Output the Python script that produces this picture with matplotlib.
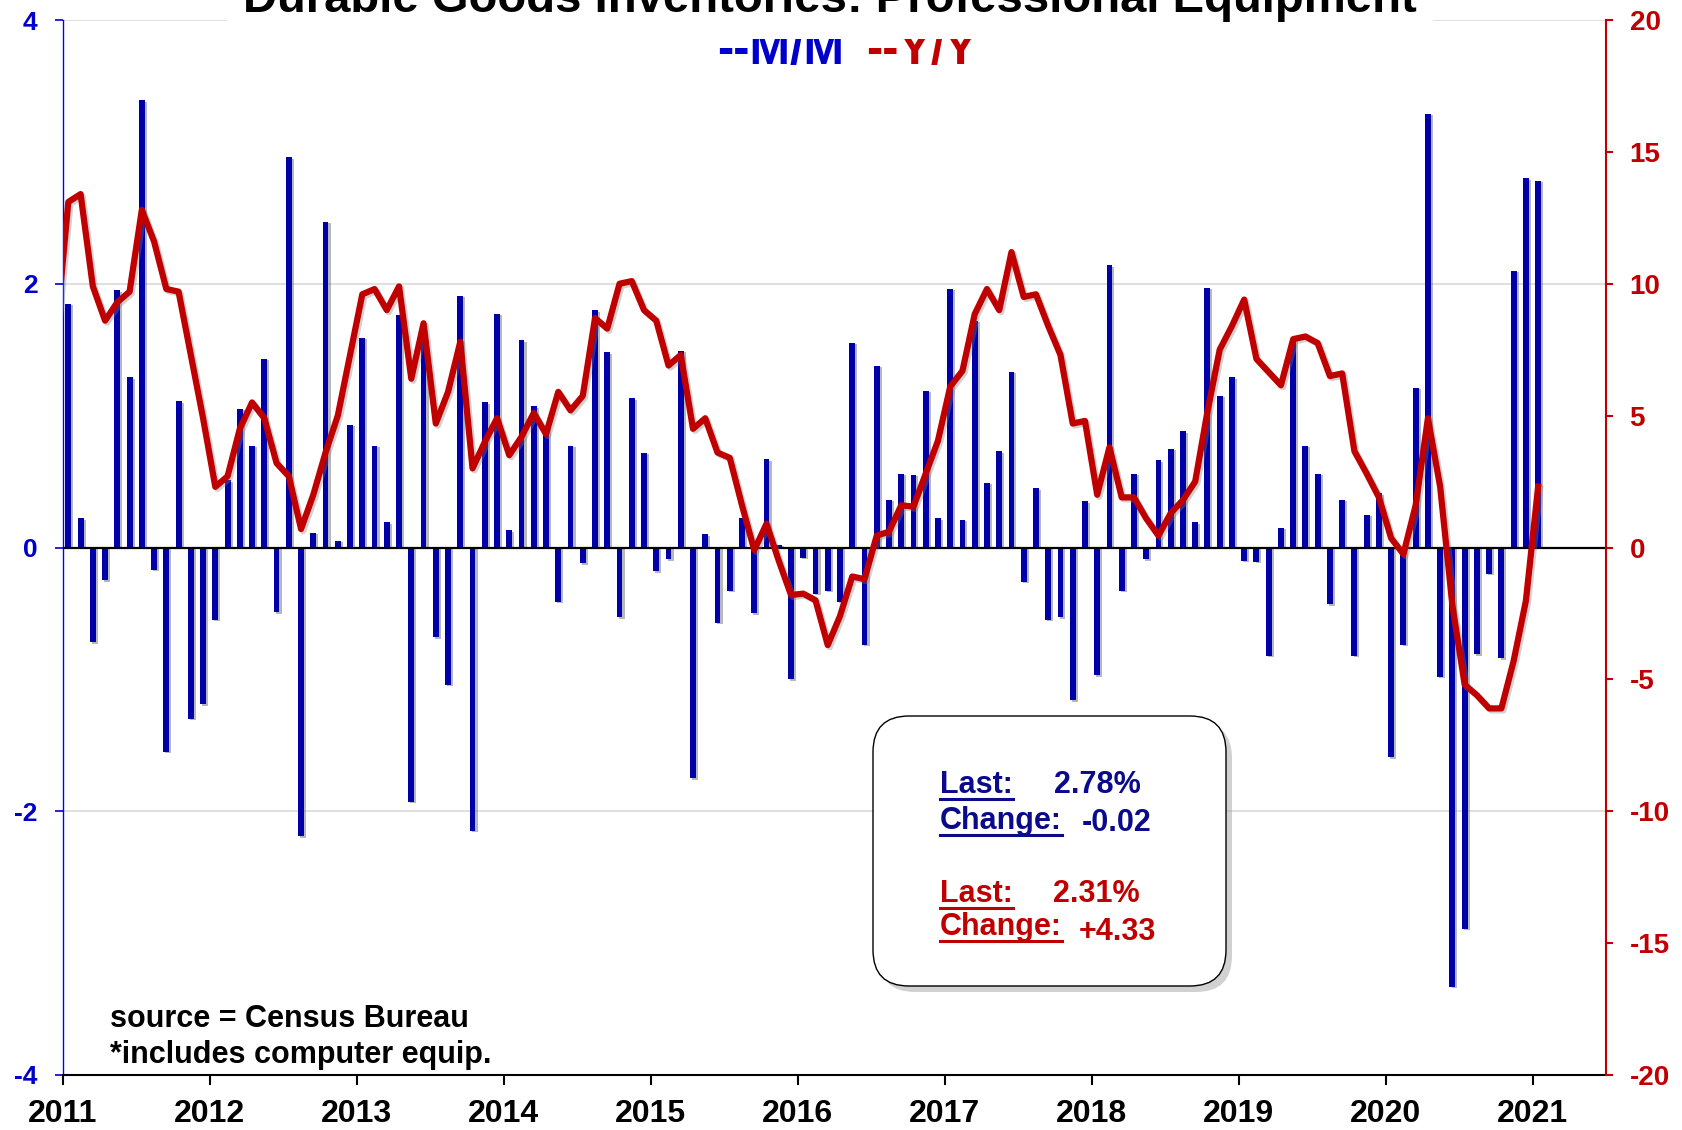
import numpy as np
import matplotlib
matplotlib.use("Agg")
import matplotlib.pyplot as plt
import matplotlib.patheffects as pe
from matplotlib.patches import FancyBboxPatch

plt.rcParams['font.family'] = ['Liberation Sans', 'DejaVu Sans']
plt.rcParams['font.weight'] = 'bold'
plt.rcParams['axes.unicode_minus'] = False

# M/M % change, Jan 2011 - Jan 2021 (left axis)
mm = [1.85, 0.22, -0.72, -0.25, 1.95, 1.29, 3.39, -0.17, -1.55, 1.11, -1.30, -1.19,
      -0.55, 0.51, 1.05, 0.77, 1.43, -0.49, 2.96, -2.19, 0.11, 2.47, 0.05, 0.93,
      1.59, 0.77, 0.19, 1.76, -1.93, 1.56, -0.68, -1.04, 1.91, -2.15, 1.10, 1.77,
      0.13, 1.57, 1.07, 0.92, -0.41, 0.77, -0.12, 1.80, 1.48, -0.53, 1.13, 0.72,
      -0.18, -0.09, 1.49, -1.75, 0.10, -0.57, -0.33, 0.22, -0.50, 0.67, 0.02, -1.00,
      -0.08, -0.35, -0.33, -0.41, 1.55, -0.74, 1.38, 0.36, 0.56, 0.55, 1.19, 0.22,
      1.96, 0.21, 1.72, 0.49, 0.73, 1.33, -0.26, 0.45, -0.55, -0.53, -1.16, 0.35,
      -0.97, 2.14, -0.33, 0.56, -0.09, 0.66, 0.75, 0.88, 0.19, 1.97, 1.15, 1.29,
      -0.10, -0.11, -0.82, 0.15, 1.58, 0.77, 0.56, -0.43, 0.36, -0.82, 0.25, 0.41,
      -1.59, -0.74, 1.21, 3.29, -0.98, -3.33, -2.89, -0.81, -0.20, -0.84, 2.10, 2.80,
      2.78]

# Y/Y % change, Dec 2010 - Jan 2021 (right axis)
yy = [8.1,
      13.1, 13.4, 9.9, 8.6, 9.3, 9.7, 12.8, 11.6, 9.8, 9.7, 7.3, 4.9,
      2.3, 2.7, 4.5, 5.5, 4.9, 3.2, 2.7, 0.7, 2.0, 3.6, 5.0, 7.3,
      9.6, 9.8, 9.0, 9.9, 6.4, 8.5, 4.7, 5.9, 7.8, 3.0, 4.0, 4.9,
      3.5, 4.2, 5.1, 4.3, 5.9, 5.2, 5.75, 8.7, 8.3, 10.0, 10.1, 9.0,
      8.6, 6.9, 7.3, 4.5, 4.9, 3.6, 3.4, 1.6, -0.1, 0.9, -0.5, -1.8,
      -1.75, -2.0, -3.7, -2.6, -1.1, -1.2, 0.45, 0.6, 1.6, 1.55, 2.8, 4.05,
      6.1, 6.7, 8.85, 9.8, 9.0, 11.2, 9.5, 9.6, 8.4, 7.3, 4.7, 4.8,
      2.0, 3.8, 1.9, 1.9, 1.1, 0.45, 1.3, 1.8, 2.5, 5.15, 7.5, 8.4,
      9.4, 7.15, 6.65, 6.15, 7.9, 8.0, 7.75, 6.5, 6.6, 3.65, 2.8, 1.9,
      0.35, -0.25, 1.6, 4.9, 2.3, -2.2, -5.2, -5.6, -6.1, -6.1, -4.3, -2.02,
      2.31]

years = list(range(2011, 2022))

BLUE = '#0000A8'
TICKBLUE = '#0000CC'
RED = '#C00000'
NAVY = '#0A0A8C'

W, H = 1683, 1130
fig = plt.figure(figsize=(W / 100, H / 100), dpi=100)


def px(x, y):
    return x / W, 1 - y / H


ax = fig.add_axes([62.7 / W, 1 - 1075 / H, (1606 - 62.7) / W, (1075 - 20) / H])
ax2 = ax.twinx()

x_mm = 2011 + (np.arange(len(mm)) + 0.46) / 12
x_yy = 2011 + (np.arange(len(yy)) - 1 + 0.46) / 12

bars = ax.bar(x_mm, mm, width=0.48 / 12, color=BLUE, zorder=3)
for b in bars:
    b.set_path_effects([pe.SimplePatchShadow(offset=(1.5, -1.0), shadow_rgbFace=(0.45, 0.45, 0.45), alpha=0.5),
                        pe.Normal()])

for g in [4, 2, -2]:
    ax.axhline(g, color='#D9D9D9', lw=1.2, zorder=1)
ax.axhline(0, color='black', lw=1.6, zorder=4)

ax2.plot(x_yy, yy, color=RED, lw=4.5, solid_joinstyle='round', zorder=5,
         path_effects=[pe.SimpleLineShadow(offset=(1.5, -1.5), shadow_color='gray', alpha=0.35), pe.Normal()])

ax.set_xlim(2011, 2021.5)
ax.set_ylim(-4, 4)
ax2.set_ylim(-20, 20)
ax.set_yticks([-4, -2, 0, 2, 4])
ax2.set_yticks([-20, -15, -10, -5, 0, 5, 10, 15, 20])
ax.set_xticks(years)
ax.set_xticklabels([str(y) for y in years])

for a in (ax, ax2):
    a.spines['top'].set_visible(False)
ax.spines['left'].set_color('#0000FF')
ax.spines['left'].set_linewidth(1.0)
ax.spines['right'].set_visible(False)
ax2.spines['left'].set_visible(False)
ax2.spines['bottom'].set_visible(False)
ax2.spines['right'].set_color(RED)
ax2.spines['right'].set_linewidth(1.5)
ax.spines['bottom'].set_color('black')
ax.spines['bottom'].set_linewidth(1.5)

ax.tick_params(axis='y', colors=TICKBLUE, labelsize=19, length=6, width=1.2, pad=12, direction='out')
ax.tick_params(axis='x', colors='black', labelsize=23, length=7, width=1.5, pad=10, direction='out')
ax2.tick_params(axis='y', colors=RED, labelsize=20, length=5, width=1.5, pad=12, direction='out')
for lab in ax.get_yticklabels() + ax.get_xticklabels() + ax2.get_yticklabels():
    lab.set_fontweight('bold')

# title (cut at the top, white background hides the top gridline)
fig.text(*px(830, 12), 'Durable Goods Inventories: Professional Equipment', ha='center', va='baseline',
         fontsize=34, fontweight='bold', color='black', zorder=10,
         bbox=dict(facecolor='white', edgecolor='none', pad=12))
fig.text(*px(717, 64), '--M/M', ha='left', va='baseline', fontsize=35, fontweight='bold', color=TICKBLUE)
fig.text(*px(866, 64), '--Y/Y', ha='left', va='baseline', fontsize=35, fontweight='bold', color=RED)

# footnotes
fig.text(*px(110, 1027), 'source = Census Bureau', fontsize=22, fontweight='bold', va='baseline')
fig.text(*px(110, 1063), '*includes computer equip.', fontsize=22, fontweight='bold', va='baseline')

# summary box
x0, y0, x1, y1 = 873, 716, 1226, 986
shadow = FancyBboxPatch(((x0 + 6) / 100, (H - y1 - 6) / 100), (x1 - x0) / 100, (y1 - y0) / 100,
                        boxstyle='round,pad=0,rounding_size=0.36', transform=fig.dpi_scale_trans,
                        facecolor='#999999', edgecolor='none', alpha=0.45, zorder=20)
box = FancyBboxPatch((x0 / 100, (H - y1) / 100), (x1 - x0) / 100, (y1 - y0) / 100,
                     boxstyle='round,pad=0,rounding_size=0.36', transform=fig.dpi_scale_trans,
                     facecolor='white', edgecolor='black', lw=1.0, zorder=21)
fig.add_artist(shadow)
fig.add_artist(box)

labels = []
entries = [('Last:', 940, 793, '2.78%', 1054, 793, NAVY),
           ('Change:', 940, 829, '-0.02', 1082, 831, NAVY),
           ('Last:', 940, 902, '2.31%', 1053, 902, RED),
           ('Change:', 940, 935, '+4.33', 1079, 940, RED)]
for lab, lx, ly, val, vx, vy, c in entries:
    t = fig.text(*px(lx, ly), lab, fontsize=22, fontweight='bold', color=c, va='baseline', zorder=22)
    fig.text(*px(vx, vy), val, fontsize=22, fontweight='bold', color=c, va='baseline', zorder=22)
    labels.append((t, ly, c))

fig.canvas.draw()
r = fig.canvas.get_renderer()
for t, ly, c in labels:
    bb = t.get_window_extent(renderer=r)
    yu = 1 - (ly + 6) / H
    fig.add_artist(plt.Line2D([bb.x0 / W, bb.x1 / W], [yu, yu], color=c, lw=2.2, zorder=22))

fig.savefig('out.png', dpi=100)
